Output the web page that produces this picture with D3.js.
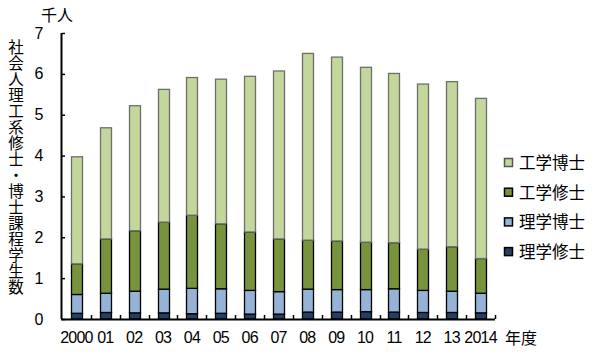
<!DOCTYPE html>
<html><head><meta charset="utf-8">
<script src="https://cdn.jsdelivr.net/npm/d3@7"></script>
<style>body{margin:0;background:#fff}svg{display:block}</style>
</head><body>
<svg id="c" width="600" height="358"></svg>
<script>
const years = ["2000","01","02","03","04","05","06","07","08","09","10","11","12","13","2014"];
const rigakuShushi = [0.14,0.16,0.15,0.15,0.13,0.14,0.12,0.12,0.17,0.17,0.18,0.17,0.16,0.16,0.15];
const rigakuHakushi = [0.46,0.47,0.53,0.58,0.62,0.60,0.58,0.55,0.56,0.55,0.54,0.57,0.54,0.52,0.48];
const kogakuShushi = [0.75,1.33,1.48,1.64,1.79,1.59,1.43,1.29,1.20,1.19,1.16,1.13,1.01,1.09,0.85];
const kogakuHakushi = [2.62,2.72,3.06,3.25,3.37,3.54,3.81,4.11,4.57,4.50,4.28,4.14,4.04,4.04,3.92];
const seriesNames = ["理学修士","理学博士","工学修士","工学博士"];
const yTicks = [0,1,2,3,4,5,6,7];

const colors = ["#243f66","#95b3d7","#77933c","#c3d69b"];
const strokes = ["#000","#000","#000","#6e6e6e"];
const svg = d3.select("#c");
const jp = "'Noto Sans CJK JP', sans-serif";
const num = "'Liberation Sans', Arial, sans-serif";

const x = d3.scaleBand().domain(years).range([62,495]).paddingInner(0.62).paddingOuter(0.31);
const y = d3.scaleLinear().domain([0,7]).range([319,33]);

const rows = years.map((yr,i)=>({year:yr,"理学修士":rigakuShushi[i],"理学博士":rigakuHakushi[i],"工学修士":kogakuShushi[i],"工学博士":kogakuHakushi[i]}));
const stacked = d3.stack().keys(seriesNames)(rows);

const g = svg.append("g");
stacked.forEach((s,k)=>{
  g.selectAll(null).data(s).enter().append("rect")
    .attr("x",d=>Math.round(x(d.data.year))+0.5)
    .attr("y",d=>y(d[1]))
    .attr("width",Math.round(x.bandwidth()))
    .attr("height",d=>y(d[0])-y(d[1]))
    .attr("fill",colors[k])
    .attr("stroke",strokes[k])
    .attr("stroke-width",1.3);
});

// y axis
const ya = d3.axisLeft(y).tickValues(yTicks).tickSize(-3).tickPadding(18).tickFormat(d3.format("d"));
const yg = svg.append("g").attr("transform","translate(62,0)").call(ya);
yg.select(".domain").attr("d","M-0.5,33V319").attr("stroke","#000").attr("stroke-width",2);
yg.selectAll(".tick line").attr("stroke","#000").attr("stroke-width",1.5);
yg.selectAll("text").attr("font-family",num).attr("font-size",16).attr("fill","#000").attr("text-anchor","middle").attr("dx",-5);

// x axis
const xa = d3.axisBottom(x).tickSize(0).tickPadding(13);
const xg = svg.append("g").attr("transform","translate(0,319)").call(xa);
xg.select(".domain").attr("d","M61,0.5H495").attr("stroke","#000").attr("stroke-width",2);
xg.selectAll("text").attr("font-family",num).attr("font-size",16).attr("fill","#000").attr("letter-spacing",-0.8);
// separator ticks between categories
const step = x.step();
xg.selectAll(".sep").data(years.slice(1).concat(["end"])).enter().append("line")
  .attr("x1",(d,i)=>Math.round(62+step*(i+1))+0.5).attr("x2",(d,i)=>Math.round(62+step*(i+1))+0.5)
  .attr("y1",0).attr("y2",-4).attr("stroke","#000").attr("stroke-width",1.5);

// titles
svg.append("text").attr("x",57).attr("y",21).attr("text-anchor","middle")
  .attr("font-family",jp).attr("font-size",16).text("千人");
svg.append("text").attr("x",521).attr("y",344).attr("text-anchor","middle")
  .attr("font-family",jp).attr("font-size",16).text("年度");
svg.append("text").attr("x",16).attr("y",39)
  .attr("font-family",jp).attr("font-size",15.5)
  .style("writing-mode","vertical-rl").style("text-orientation","upright")
  .attr("letter-spacing",0.5)
  .text("社会人理工系修士・博士課程学生数");

// legend
const legendOrder = [3,2,1,0];
const lg = svg.append("g");
legendOrder.forEach((k,i)=>{
  const cy = 163 + i*29.7;
  lg.append("rect").attr("x",504.5).attr("y",cy-4.5).attr("width",8).attr("height",8)
    .attr("fill",colors[k]).attr("stroke",k===3?"#555":"#000").attr("stroke-width",1.5);
  lg.append("text").attr("x",519).attr("y",cy+6).attr("font-family",jp).attr("font-size",16.5)
    .attr("fill","#000").text(seriesNames[k]);
});
</script>
</body></html>
